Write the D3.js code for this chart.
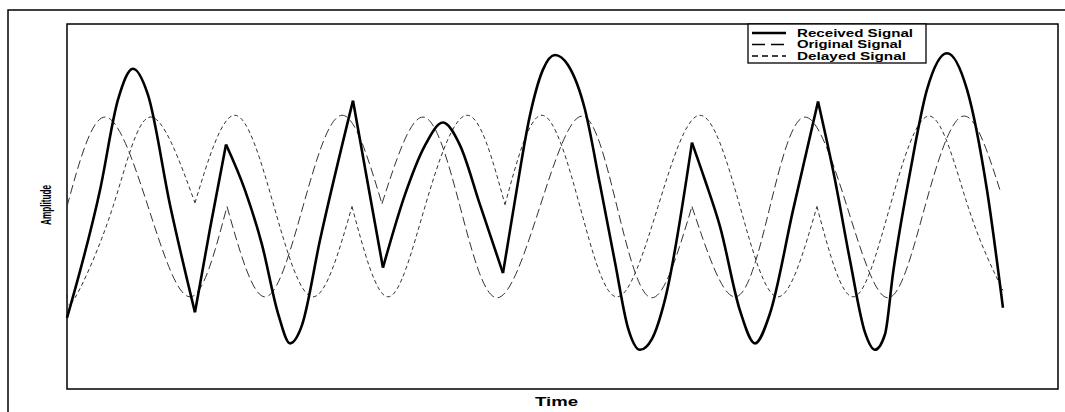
<!DOCTYPE html>
<html>
<head>
<meta charset="utf-8">
<script src="https://cdn.jsdelivr.net/npm/d3@7"></script>
<style>
  body { margin: 0; background: #fff; }
  text { font-family: "Liberation Sans", Arial, sans-serif; font-weight: bold; fill: #000; }
</style>
</head>
<body>
<div id="signalPlot"></div>
<script>
// values: time (arbitrary units), amplitude (peak = 1)
var originalTime = [0, 3.83, 8.17, 12.4, 16.13, 19.96, 23.79, 27.72, 31.75, 35.89, 39.62, 43.35, 47.68,
  51.92, 55.44, 58.97, 63.0, 67.34, 70.87, 74.4, 78.63, 82.76, 86.49, 90.32, 94.05];
var originalAmp = [0, 0.98, 0, -0.99, 0, -0.99, 0, 1.0, 0.03, 0.98, 0, -1.0, 0,
  0.99, 0, -1.0, 0, -0.99, 0, 0.98, 0, -1.0, 0, 0.99, 0.18];
var originalCusps = [16.13, 31.75, 63.0];

var delayedTime = [0, 0.81, 4.64, 8.37, 12.9, 16.94, 20.87, 24.8, 28.73, 32.36, 36.09, 40.32, 44.15,
  47.88, 51.71, 55.44, 59.58, 63.81, 67.84, 71.67, 75.6, 79.23, 82.96, 86.99, 90.83, 94.35];
var delayedAmp = [-0.96, -1.0, 0, 0.98, 0.04, 1.0, 0, -0.99, 0, -0.99, 0, 1.0, 0.02,
  1.0, 0, -0.99, 0, 1.0, 0, -0.99, 0, -0.99, 0, 0.99, 0, -0.92];
var delayedCusps = [12.9, 28.73, 44.15, 75.6];

var receivedTime = [0, 3.33, 5.14, 6.65, 8.17, 10.38, 12.9, 14.42, 16.03, 17.94, 19.66, 21.27, 22.48,
  23.69, 25.5, 28.83, 30.34, 31.85, 34.07, 36.09, 37.9, 39.62, 41.63, 43.95, 45.16, 46.67, 47.98,
  49.19, 50.5, 52.22, 53.73, 55.24, 56.55, 57.76, 58.97, 60.28, 63.0, 64.31, 65.83, 67.84, 69.35,
  70.87, 73.19, 75.71, 77.42, 78.93, 80.44, 81.45, 82.46, 83.27, 84.98, 86.69, 88.71, 90.73, 92.74, 94.35];
var receivedAmp = [-1.22, 0.18, 1.17, 1.51, 1.22, 0.02, -1.16, -0.24, 0.68, 0.18, -0.42, -1.17, -1.5,
  -1.3, -0.37, 1.16, 0.24, -0.67, 0.13, 0.67, 0.92, 0.67, 0.02, -0.73, 0.07, 1.0, 1.5,
  1.66, 1.55, 1.06, 0.24, -0.61, -1.33, -1.57, -1.45, -1.02, 0.7, 0.29, -0.22, -1.14, -1.5,
  -1.17, -0.04, 1.15, 0.29, -0.59, -1.38, -1.57, -1.4, -0.73, 0.37, 1.28, 1.68, 1.28, 0.18, -1.11];
var receivedCusps = [12.9, 16.03, 28.83, 31.85, 43.95, 63.0, 75.71];

var legendLabels = ['Received Signal', 'Original Signal', 'Delayed Signal'];

var margin = ({top: 24, right: 6, bottom: 23, left: 67});
var width = 1065;
var height = 412;
var visWidth = width - margin.left - margin.right;
var visHeight = height - margin.top - margin.bottom;

var x = d3.scaleLinear().domain([0, 100]).range([0, visWidth]);
var y = d3.scaleLinear().domain([-2, 2]).range([visHeight, 0]);

// break a series into pieces at its sharp corners
function splitAtCusps(times, amps, cusps) {
  const segs = [[]];
  times.forEach((t, i) => {
    segs[segs.length - 1].push([t, amps[i]]);
    if (i > 0 && i < times.length - 1 && cusps.includes(t)) segs.push([[t, amps[i]]]);
  });
  return segs;
}

function signalChart() {
  const svg = d3.select('#signalPlot')
    .append('svg')
      .attr('width', width)
      .attr('height', height);

  // outer frame (runs off the right and bottom of the picture)
  svg.append('rect')
    .attr('x', 8).attr('y', 10)
    .attr('width', 1100).attr('height', 500)
    .attr('fill', 'none').attr('stroke', '#000').attr('stroke-width', 1.5);

  const g = svg.append('g')
    .attr('transform', `translate(${margin.left}, ${margin.top})`);

  g.append('rect')
    .attr('width', visWidth - 1)
    .attr('height', visHeight)
    .attr('fill', 'none').attr('stroke', '#000').attr('stroke-width', 1.5);

  const thinLine = d3.line().x(d => x(d[0])).y(d => y(d[1])).curve(d3.curveNatural);
  const thickLine = d3.line().x(d => x(d[0])).y(d => y(d[1])).curve(d3.curveMonotoneX);

  const series = [
    {segs: splitAtCusps(originalTime, originalAmp, originalCusps), line: thinLine, w: 1, dash: '9,4', c: '#333'},
    {segs: splitAtCusps(delayedTime, delayedAmp, delayedCusps), line: thinLine, w: 1, dash: '4,3', c: '#333'},
    {segs: splitAtCusps(receivedTime, receivedAmp, receivedCusps), line: thickLine, w: 2.6, dash: null, c: '#000'}
  ];

  series.forEach(s => {
    g.append('g').selectAll('path')
      .data(s.segs)
      .join('path')
        .attr('d', s.line)
        .attr('fill', 'none')
        .attr('stroke', s.c)
        .attr('stroke-width', s.w)
        .attr('stroke-dasharray', s.dash)
        .attr('stroke-linejoin', 'round');
  });

  // axis titles
  svg.append('text')
    .attr('transform', 'translate(51, 205) rotate(-90)')
    .attr('text-anchor', 'middle')
    .attr('textLength', 40)
    .attr('lengthAdjust', 'spacingAndGlyphs')
    .style('font-size', '14px')
    .text('Amplitude');

  svg.append('text')
    .attr('x', 535)
    .attr('y', 406)
    .attr('textLength', 43)
    .attr('lengthAdjust', 'spacingAndGlyphs')
    .style('font-size', '12px')
    .text('Time');

  // legend
  const legend = svg.append('g').attr('transform', 'translate(748, 24)');
  legend.append('rect')
    .attr('width', 178).attr('height', 39)
    .attr('fill', '#fff').attr('stroke', '#000').attr('stroke-width', 1.3);

  const legendStyle = [
    {w: 2.6, dash: null, len: 116},
    {w: 1.3, dash: '13,6', len: 105},
    {w: 1.3, dash: '6,4', len: 109}
  ];
  legend.selectAll('g.item')
    .data(legendLabels)
    .join('g')
      .attr('class', 'item')
      .attr('transform', (d, i) => `translate(0, ${9 + i * 11.5})`)
      .each(function(d, i) {
        const item = d3.select(this);
        item.append('line')
          .attr('x1', 4).attr('x2', 38)
          .attr('stroke', '#000')
          .attr('stroke-width', legendStyle[i].w)
          .attr('stroke-dasharray', legendStyle[i].dash);
        item.append('text')
          .attr('x', 49)
          .attr('dy', '0.35em')
          .attr('textLength', legendStyle[i].len)
          .attr('lengthAdjust', 'spacingAndGlyphs')
          .style('font-size', '10px')
          .text(d);
      });

  return svg.node();
}

function init() {
  const chart = signalChart();
}

window.onload = init;
</script>
</body>
</html>
